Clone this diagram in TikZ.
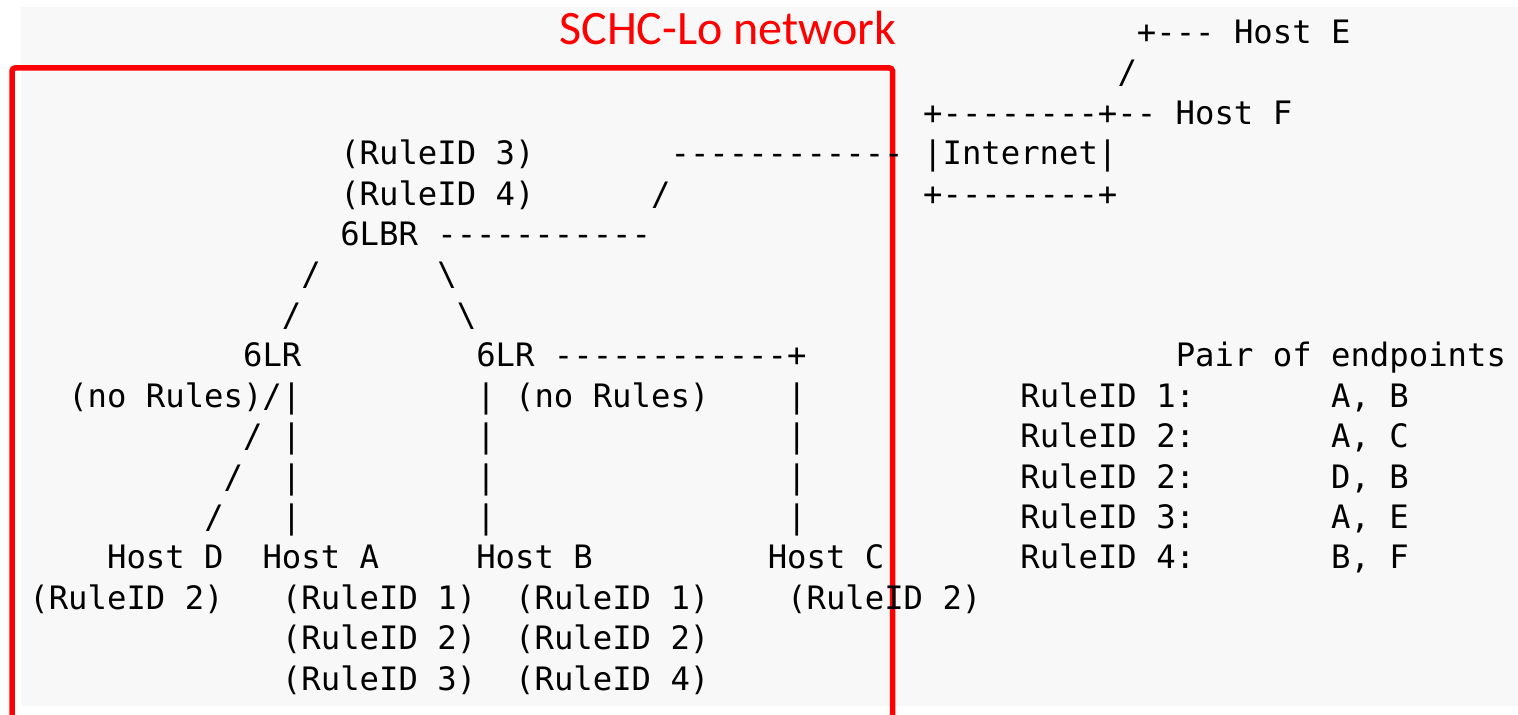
\documentclass[tikz,border=0pt]{standalone}
\usepackage{fontspec}
\setmonofont{DejaVu Sans Mono}
\newfontfamily\labelfont{Carlito}

\begin{document}
\begin{tikzpicture}[x=0.5pt, y=-0.5pt,
    ascii/.style={font=\ttfamily\fontsize{16.13}{20}\selectfont, anchor=base west, inner sep=0pt, outer sep=0pt}]
    % Define colors
    \definecolor{paper}{RGB}{248, 248, 248}   % Screenshot grey
    \definecolor{frame}{RGB}{255, 0, 0}       % Network frame red

    \useasboundingbox (0,0) rectangle (1518,715);

    % Grey page behind the ascii art
    \fill[paper] (21,7) rectangle (1518,706);

    % Red frame round the SCHC-Lo part, open at the bottom
    \draw[frame, line width=2.75pt, rounded corners=1.5pt] (12,730) -- (12,68) -- (892.5,68) -- (892.5,730);
    \node[anchor=base west, inner sep=0pt, font=\labelfont\fontsize{24}{28}\selectfont, text=frame] (netlabel) at (559,45) {SCHC-Lo network};

    % Ascii grid: one unit = one character cell, one line per row
    \begin{scope}[shift={(29.4,43.6)}, x=9.715pt, y=-20.2pt]
        % Internet and the hosts behind it
        \node[ascii] (hostE) at (57,0) {+--- Host E};
        \node[ascii] (slashE) at (56,1) {/};
        \node[ascii] (hostF) at (46,2) {+--------+-- Host F};
        \node[ascii] (inet) at (46,3) {|Internet|};
        \node[ascii] (inetbot) at (46,4) {+--------+};
        \node[ascii] (uplinkA) at (33,3) {------------};
        \node[ascii] (uplinkB) at (32,4) {/};

        % Border router
        \node[ascii] (brruleC) at (16,3) {(RuleID 3)};
        \node[ascii] (brruleD) at (16,4) {(RuleID 4)};
        \node[ascii] (br) at (16,5) {6LBR -----------};
        \node[ascii] (brl1) at (14,6) {/};
        \node[ascii] (brr1) at (21,6) {\textbackslash};
        \node[ascii] (brl2) at (13,7) {/};
        \node[ascii] (brr2) at (22,7) {\textbackslash};

        % Routers
        \node[ascii] (lrleft) at (11,8) {6LR};
        \node[ascii] (lrright) at (23,8) {6LR ------------+};
        \node[ascii] (lrlrule) at (2,9) {(no Rules)/|};
        \node[ascii] (lrrrule) at (23,9) {| (no Rules)};
        \node[ascii] (linkC1) at (39,9) {|};

        % Links down to the hosts
        \node[ascii] (linkD1) at (11,10) {/};
        \node[ascii] (linkD2) at (10,11) {/};
        \node[ascii] (linkD3) at (9,12) {/};
        \foreach \row in {10,11,12} {
            \node[ascii] (linkA\row) at (13,\row) {|};
            \node[ascii] (linkB\row) at (23,\row) {|};
            \node[ascii] (linkC\row) at (39,\row) {|};
        }

        % Hosts and their rules
        \node[ascii] (hostD) at (4,13) {Host D};
        \node[ascii] (hostA) at (12,13) {Host A};
        \node[ascii] (hostB) at (23,13) {Host B};
        \node[ascii] (hostC) at (38,13) {Host C};
        \node[ascii] (ruleD) at (0,14) {(RuleID 2)};
        \node[ascii] (ruleA1) at (13,14) {(RuleID 1)};
        \node[ascii] (ruleA2) at (13,15) {(RuleID 2)};
        \node[ascii] (ruleA3) at (13,16) {(RuleID 3)};
        \node[ascii] (ruleB1) at (25,14) {(RuleID 1)};
        \node[ascii] (ruleB2) at (25,15) {(RuleID 2)};
        \node[ascii] (ruleB4) at (25,16) {(RuleID 4)};
        \node[ascii] (ruleC) at (39,14) {(RuleID 2)};

        % Rule table
        \node[ascii] (pairhead) at (59,8) {Pair of endpoints};
        \node[ascii] (rowA) at (51,9) {RuleID 1:};
        \node[ascii] (rowB) at (51,10) {RuleID 2:};
        \node[ascii] (rowC) at (51,11) {RuleID 2:};
        \node[ascii] (rowD) at (51,12) {RuleID 3:};
        \node[ascii] (rowE) at (51,13) {RuleID 4:};
        \node[ascii] (pairA) at (67,9) {A, B};
        \node[ascii] (pairB) at (67,10) {A, C};
        \node[ascii] (pairC) at (67,11) {D, B};
        \node[ascii] (pairD) at (67,12) {A, E};
        \node[ascii] (pairE) at (67,13) {B, F};
    \end{scope}

\end{tikzpicture}
\end{document}
